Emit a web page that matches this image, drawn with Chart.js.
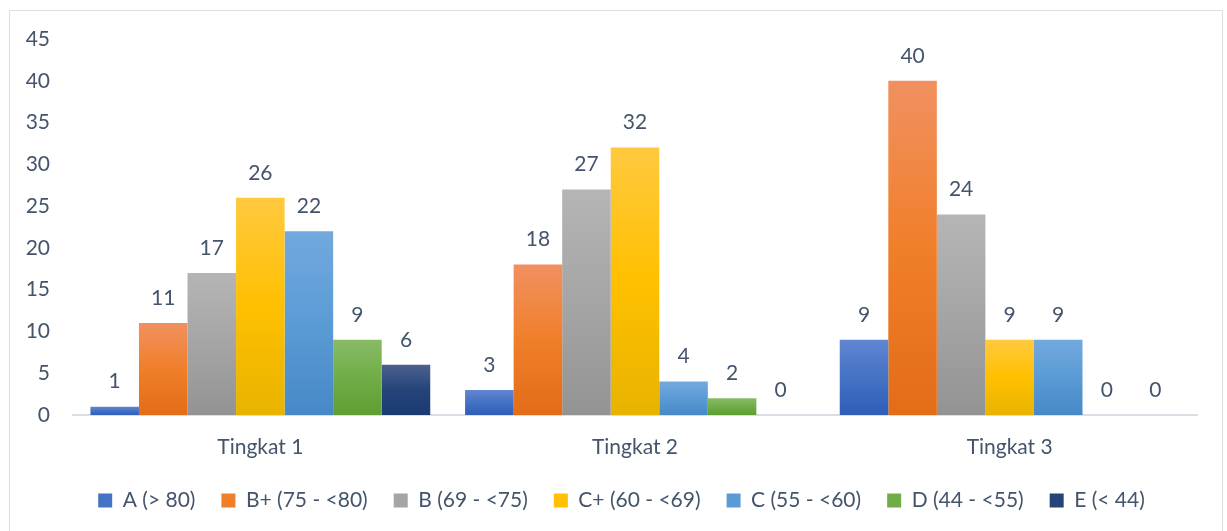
<!DOCTYPE html>
<html>
<head>
<meta charset="utf-8">
<script src="https://cdn.jsdelivr.net/npm/chart.js@4"></script>
<style>
  html, body { margin: 0; padding: 0; background: #fff; }
  #wrap { position: relative; width: 1227px; height: 531px; }
  #frame { position: absolute; left: 9px; top: 10px; width: 1214px; height: 530px; border: 1px solid #d9dde4; box-sizing: border-box; pointer-events: none; }
  canvas { position: absolute; left: 0; top: 0; }
</style>
</head>
<body>
<div id="wrap">
  <canvas id="chart" width="1227" height="531"></canvas>
  <div id="frame"></div>
</div>
<script>
var categories = ['Tingkat 1', 'Tingkat 2', 'Tingkat 3'];
var seriesNames = ['A (> 80)', 'B+ (75 - <80)', 'B (69 - <75)', 'C+ (60 - <69)', 'C (55 - <60)', 'D (44 - <55)', 'E (< 44)'];
var gradeA  = [1, 3, 9];
var gradeBp = [11, 18, 40];
var gradeB  = [17, 27, 24];
var gradeCp = [26, 32, 9];
var gradeC  = [22, 4, 9];
var gradeD  = [9, 2, 0];
var gradeE  = [6, 0, 0];
var yTicks = [0, 5, 10, 15, 20, 25, 30, 35, 40, 45];

// top / middle / bottom colours of the excel style gradient
var shades = [
    ['#6186d2', '#4472c4', '#2f5db8'],
    ['#f19060', '#f07f2a', '#e36c17'],
    ['#b5b5b5', '#a5a5a5', '#939393'],
    ['#ffc93f', '#ffc000', '#e8b300'],
    ['#72a9de', '#5b9bd5', '#4689c7'],
    ['#88bb66', '#70ad47', '#5f9e33'],
    ['#4b6190', '#264478', '#1a3a73']
];
var allValues = [gradeA, gradeBp, gradeB, gradeCp, gradeC, gradeD, gradeE];
var textColor = '#44546a';
var fontSize = 21;

function barGradient(i) {
    return function (c) {
        var chart = c.chart;
        var y = chart.scales.y;
        if (!chart.chartArea || !y || c.raw === undefined) return shades[i][1];
        var top = y.getPixelForValue(c.raw);
        var base = y.getPixelForValue(0);
        if (base - top < 1) return shades[i][1];
        var g = chart.ctx.createLinearGradient(0, top, 0, base);
        g.addColorStop(0, shades[i][0]);
        g.addColorStop(0.5, shades[i][1]);
        g.addColorStop(1, shades[i][2]);
        return g;
    };
}

var datasets = seriesNames.map(function (name, i) {
    return {
        label: name,
        data: allValues[i],
        backgroundColor: barGradient(i),
        borderWidth: 0,
        barPercentage: 1,
        categoryPercentage: 0.907
    };
});

var valueLabels = {
    id: 'valueLabels',
    afterDatasetsDraw: function (chart) {
        var ctx = chart.ctx;
        ctx.save();
        ctx.font = fontSize + 'px Lato';
        ctx.fillStyle = textColor;
        ctx.textAlign = 'center';
        ctx.textBaseline = 'middle';
        chart.data.datasets.forEach(function (ds, i) {
            chart.getDatasetMeta(i).data.forEach(function (bar, j) {
                ctx.fillText(String(ds.data[j]), bar.x, bar.y - 25);
            });
        });
        ctx.restore();
    }
};

// legend sits a little right of the canvas centre in the original
var legendShift = {
    id: 'legendShift',
    afterLayout: function (chart) {
        chart.legend.left += 23;
        chart.legend.right += 23;
    }
};

var ctx = document.getElementById('chart').getContext('2d');
var myChart = new Chart(ctx, {
    type: 'bar',
    data: {
        labels: categories,
        datasets: datasets
    },
    options: {
        responsive: false,
        animation: false,
        layout: {
            padding: { top: 39, right: 30, left: 0, bottom: 10 }
        },
        scales: {
            x: {
                grid: { display: false, drawTicks: false },
                border: { display: true, color: '#d9dde4', width: 2 },
                ticks: { color: textColor, font: { family: 'Lato', size: fontSize }, padding: 20 },
                afterFit: function (scale) { scale.height = 49; }
            },
            y: {
                min: 0,
                max: 45,
                afterBuildTicks: function (scale) {
                    scale.ticks = yTicks.map(function (v) { return { value: v }; });
                },
                grid: { display: false, drawTicks: false },
                border: { display: false },
                ticks: { color: textColor, font: { family: 'Lato', size: fontSize }, padding: 23 },
                afterFit: function (scale) { scale.width = 73; }
            }
        },
        plugins: {
            legend: {
                position: 'bottom',
                maxHeight: 60,
                labels: {
                    color: textColor,
                    font: { family: 'Lato', size: fontSize },
                    boxWidth: 14,
                    boxHeight: 14,
                    padding: 26,
                    generateLabels: function (chart) {
                        return chart.data.datasets.map(function (ds, i) {
                            return {
                                text: ds.label,
                                fillStyle: shades[i][1],
                                strokeStyle: shades[i][1],
                                lineWidth: 0,
                                fontColor: textColor,
                                datasetIndex: i
                            };
                        });
                    }
                }
            },
            tooltip: { enabled: false }
        }
    },
    plugins: [valueLabels, legendShift]
});
</script>
</body>
</html>
